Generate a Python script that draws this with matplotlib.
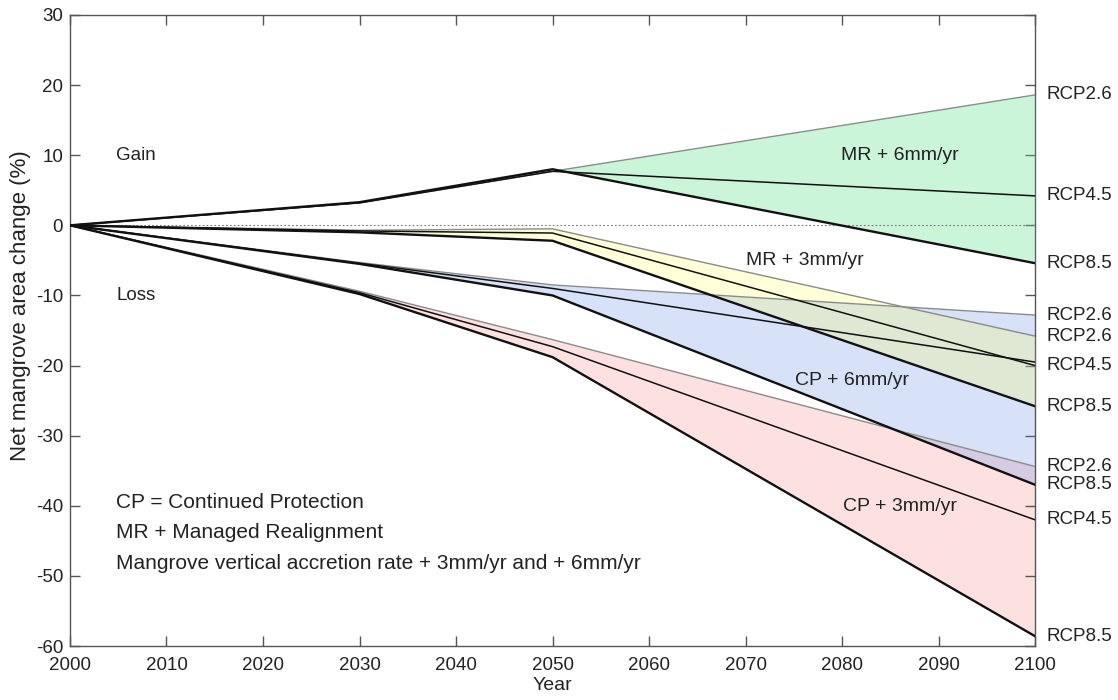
import matplotlib
matplotlib.use('Agg')
import matplotlib.pyplot as plt

plt.rcParams.update({
    'font.family': ['Liberation Sans', 'DejaVu Sans'],
    'font.size': 13.5,
    'axes.unicode_minus': False,
    'axes.edgecolor': '#555555',
    'axes.linewidth': 1.0,
    'xtick.color': '#555555',
    'ytick.color': '#555555',
    'xtick.labelcolor': '#222222',
    'ytick.labelcolor': '#222222',
})

# ---- data ----
years = [2000, 2030, 2050, 2100]

# MR + 6mm/yr
green_26 = [0, 3.2, 7.7, 18.6]
green_45 = [0, 3.2, 7.7, 4.2]
green_85 = [0, 3.3, 8.0, -5.4]
# MR + 3mm/yr
yellow_26 = [0, -0.7, -0.5, -15.8]
yellow_45 = [0, -0.8, -1.1, -20.0]
yellow_85 = [0, -1.0, -2.2, -25.8]
# CP + 6mm/yr
blue_26 = [0, -5.3, -8.5, -12.8]
blue_45 = [0, -5.4, -9.0, -19.5]
blue_85 = [0, -5.5, -10.0, -37.0]
# CP + 3mm/yr
red_26 = [0, -9.4, -16.3, -34.4]
red_45 = [0, -9.6, -17.3, -42.0]
red_85 = [0, -9.8, -18.8, -58.6]

right_labels = ['RCP2.6', 'RCP4.5', 'RCP8.5', 'RCP2.6', 'RCP2.6', 'RCP4.5',
                'RCP8.5', 'RCP2.6', 'RCP8.5', 'RCP4.5', 'RCP8.5']
right_label_y = [18.6, 4.2, -5.4, -12.8, -15.8, -20.0, -25.8, -34.4, -37.0, -42.0, -58.6]

scenario_names = ['MR + 6mm/yr', 'MR + 3mm/yr', 'CP + 6mm/yr', 'CP + 3mm/yr']
scenario_pos = [(2086, 10), (2076.2, -5.0), (2081, -22.2), (2086, -40.1)]

notes = ['CP = Continued Protection',
         'MR + Managed Realignment',
         'Mangrove vertical accretion rate + 3mm/yr and + 6mm/yr']

fig = plt.figure(figsize=(11.18, 7.0), dpi=100)
ax = fig.add_axes([0.0626, 0.0771, 0.8632, 0.9015])

# fills (blue first so the yellow/red bands blend over it)
ax.fill_between(years, red_26, red_85, color='#f87878', alpha=0.22, lw=0, zorder=1)
ax.fill_between(years, blue_26, blue_85, color='#4a7fe6', alpha=0.22, lw=0, zorder=2)
ax.fill_between(years, yellow_26, yellow_85, color='#ffff50', alpha=0.22, lw=0, zorder=3)
ax.fill_between(years[2:], green_26[2:], green_85[2:], color='#5ee08a', alpha=0.32,
                lw=0, zorder=3)

ax.axhline(0, color='#777777', lw=0.8, ls=(0, (1.5, 2)), zorder=4)

groups = [(green_26, green_45, green_85), (yellow_26, yellow_45, yellow_85),
          (blue_26, blue_45, blue_85), (red_26, red_45, red_85)]
for s26, s45, s85 in groups:
    ax.plot(years, s26, color='#8a8a8a', lw=1.0, zorder=5)
    ax.plot(years, s45, color='#111111', lw=1.1, zorder=6)
    ax.plot(years, s85, color='#111111', lw=1.7, zorder=7)

for name, (x, y) in zip(scenario_names, scenario_pos):
    ax.text(x, y, name, ha='center', va='center', color='#222222', fontsize=14, zorder=8)

for lab, y in zip(right_labels, right_label_y):
    ax.text(2101.2, y, lab, ha='left', va='center', color='#222222', clip_on=False)

ax.text(2004.8, 10, 'Gain', ha='left', va='center', color='#222222')
ax.text(2004.8, -10, 'Loss', ha='left', va='center', color='#222222')
for i, t in enumerate(notes):
    ax.text(2004.8, -39.5 - 4.35 * i, t, ha='left', va='center', color='#222222',
            fontsize=15)

ax.set_xlim(2000, 2100)
ax.set_ylim(-60, 30)
ax.set_xticks(range(2000, 2101, 10))
ax.set_yticks(range(-60, 31, 10))
ax.tick_params(direction='in', length=7.2, width=1.0, top=True, right=True)
ax.tick_params(axis='x', pad=8)
ax.tick_params(axis='y', pad=5)
ax.set_xlabel('Year', color='#222222', fontsize=14, labelpad=2)
ax.set_ylabel('Net mangrove area change (%)', color='#222222', fontsize=16)
ax.yaxis.set_label_coords(-0.04, 0.54)

fig.savefig('out.png', dpi=100)
